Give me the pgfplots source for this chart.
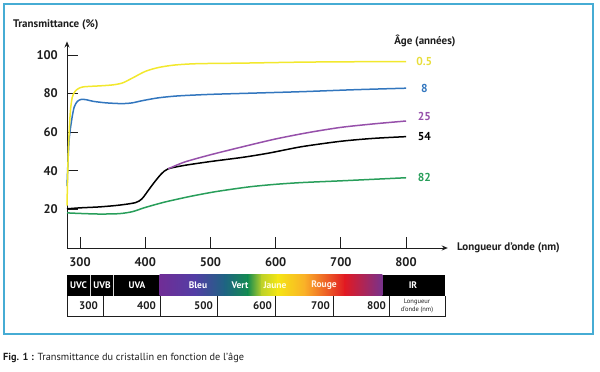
\documentclass[border=0pt]{standalone}
\usepackage{pgfplots}
\pgfplotsset{compat=1.18}
\usepackage{fontspec}
\setmainfont{PT Sans}
\usetikzlibrary{arrows.meta}
\definecolor{frameblue}{RGB}{70,172,212}
\definecolor{cYellow}{RGB}{242,232,45}
\definecolor{cYellowT}{RGB}{232,222,60}
\definecolor{cBlue}{RGB}{50,118,190}
\definecolor{cPurple}{RGB}{150,80,170}
\definecolor{cGreen}{RGB}{40,158,90}
\definecolor{txt}{RGB}{30,30,30}
\definecolor{s1}{RGB}{112,45,150}
\definecolor{s2}{RGB}{82,62,165}
\definecolor{s3}{RGB}{30,100,130}
\definecolor{s4}{RGB}{20,140,80}
\definecolor{s5}{RGB}{190,210,40}
\definecolor{s6}{RGB}{245,230,20}
\definecolor{s7}{RGB}{250,175,40}
\definecolor{s8}{RGB}{225,25,35}
\definecolor{s9}{RGB}{120,50,140}
\begin{document}
\begin{tikzpicture}
\useasboundingbox (0pt,0pt) rectangle (600pt,372pt);
% frame
\draw[frameblue, line width=1.8pt] (4pt,368pt) rectangle (593pt,38pt);
% caption
\node[anchor=west, inner sep=0pt, text=txt, font=\fontsize{10.3}{12}\selectfont] at (3pt,14pt) {\textbf{Fig. 1 :} Transmittance du cristallin en fonction de l'âge};
% titles
\node[anchor=west, inner sep=0pt, text=txt, font=\bfseries\fontsize{11}{13}\selectfont] at (13pt,347pt) {Transmittance (\%)};
\node[anchor=west, inner sep=0pt, text=txt, font=\bfseries\fontsize{11}{13}\selectfont] at (457pt,124pt) {Longueur d'onde (nm)};
\node[inner sep=0pt, text=txt, font=\bfseries\fontsize{11}{13}\selectfont] at (425pt,331pt) {Âge (années)};

\begin{axis}[
  at={(67pt,124pt)}, anchor=south west,
  x=0.652pt, y=1.93pt,
  xmin=280, xmax=864, ymin=0, ymax=107,
  axis lines=left,
  axis line style={line width=0.8pt, -{Stealth[length=6pt,width=5pt]}, txt},
  tick align=inside, major tick length=11pt,
  tick style={line width=0.8pt, txt},
  xtick={300,400,500,600,700,800},
  ytick={20,40,60,80,100},
  /pgf/number format/assume math mode=true,
  ticklabel style={font=\bfseries\fontsize{12.5}{14}\selectfont, text=txt},
  yticklabel style={inner sep=0pt, anchor=east, xshift=-9pt},
  xticklabel style={inner sep=0pt, anchor=north, yshift=-9pt},
  clip=false,
  every axis plot/.style={line width=1.5pt, smooth, tension=0.45},
]
\addplot[cGreen] coordinates {(280,18.2) (300,17.9) (330,17.6) (360,17.8) (380,18.8) (400,21) (430,23.8) (470,26.8) (510,29.3) (560,31.7) (600,33) (640,33.9) (700,34.8) (750,35.6) (800,36.4)};
\addplot[black] coordinates {(280,20.3) (300,20.8) (330,21.3) (360,22.2) (385,23.5) (395,25.5) (405,30) (415,34.5) (425,38.5) (435,41) (460,42.8) (500,44.8) (550,47) (590,49.2) (640,52.5) (700,55.3) (750,56.8) (800,57.7)};
\addplot[cPurple] coordinates {(435,41) (460,44.5) (500,48.3) (550,52.5) (600,56.5) (650,59.8) (700,62.5) (750,64.3) (800,65.8)};
\addplot[cBlue] coordinates {(280,32) (283,55) (287,66) (291,73) (296,76) (302,77) (310,76.8) (320,76) (340,75.2) (365,74.8) (380,75.2) (395,76.3) (420,77.8) (450,78.8) (500,79.6) (560,80.2) (640,81) (720,82) (800,82.8)};
\addplot[cYellow] coordinates {(280,22) (282,50) (285,70) (288,78) (292,81) (297,82.5) (305,83.5) (330,84) (350,84.5) (365,85.5) (380,88) (400,91.5) (420,93.5) (445,94.8) (480,95.5) (550,95.8) (640,96.3) (720,96.5) (800,96.6)};
\begin{scope}[every node/.style={font=\bfseries\fontsize{11.5}{13}\selectfont, inner sep=0pt}]
\node[text=cYellowT] at (axis cs:828,96.4) {0.5};
\node[text=cBlue] at (axis cs:828,82.9) {8};
\node[text=cPurple] at (axis cs:828,67.9) {25};
\node[text=black] at (axis cs:828,58) {54};
\node[text=cGreen] at (axis cs:828,36.3) {82};
\end{scope}
\end{axis}

% spectrum bar
\fill[black] (67pt,76pt) rectangle (160pt,97pt);
\fill[black] (382pt,76pt) rectangle (445pt,97pt);
\draw[white!70!gray, line width=0.8pt] (90.5pt,76pt) -- (90.5pt,97pt);
\draw[white!70!gray, line width=0.8pt] (113.5pt,76pt) -- (113.5pt,97pt);
\foreach \a/\b/\ca/\cb in {160/195/s1/s2, 195/225/s2/s3, 225/248/s3/s4, 248/262/s4/s5, 262/278/s5/s6, 278/305/s6/s7, 305/345/s7/s8, 345/382/s8/s9}{
  \shade[left color=\ca, right color=\cb] (\a pt-0.3pt,76pt) rectangle (\b pt+0.3pt,97pt);
}
\begin{scope}[every node/.style={font=\bfseries\fontsize{9.5}{11}\selectfont, text=white, inner sep=0pt}]
\node at (78.5pt,86.5pt) {UVC};
\node at (102pt,86.5pt) {UVB};
\node at (137pt,86.5pt) {UVA};
\node at (198pt,86.5pt) {Bleu};
\node at (240pt,86.5pt) {Vert};
\node[text=white!85!yellow] at (275pt,86.5pt) {Jaune};
\node[text=white!90!orange] at (324pt,86.5pt) {Rouge};
\node at (413pt,86.5pt) {IR};
\end{scope}
\draw[txt, line width=0.8pt] (67pt,76pt) -- (67pt,56pt) -- (445pt,56pt) -- (445pt,76pt);
\foreach \xx in {103,160,217,275,333,389}{\draw[txt, line width=0.8pt] (\xx pt,76pt) -- (\xx pt,56pt);}
\begin{scope}[every node/.style={font=\bfseries\fontsize{11}{13}\selectfont, text=txt, inner sep=0pt, anchor=east}]
\node at (98pt,66pt) {300};
\node at (156pt,66pt) {400};
\node at (213pt,66pt) {500};
\node at (272pt,66pt) {600};
\node at (330pt,66pt) {700};
\node at (386pt,66pt) {800};
\end{scope}
\node[font=\fontsize{6.5}{7.5}\selectfont, text=txt, align=center, inner sep=0pt] at (417pt,66pt) {Longueur\\d'onde (nm)};
\end{tikzpicture}
\end{document}
